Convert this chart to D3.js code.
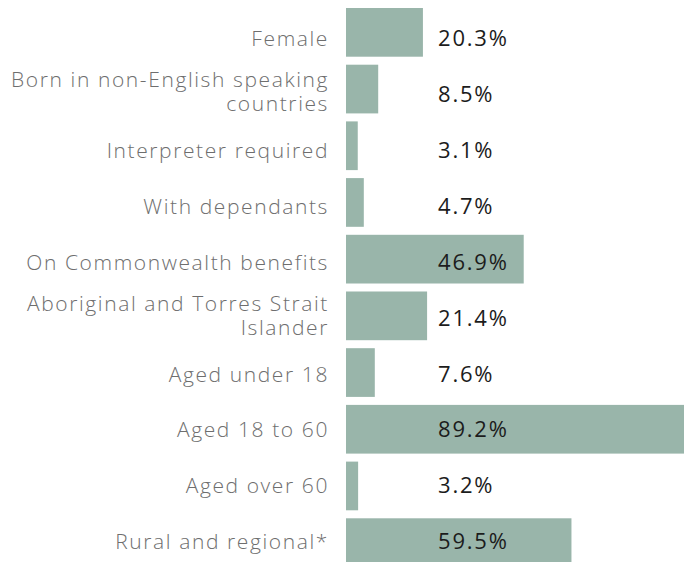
<!DOCTYPE html>
<html>
<head>
<meta charset="utf-8">
<script src="https://cdn.jsdelivr.net/npm/d3@7"></script>
<style>
  body { margin: 0; background: #fff; }
  text { font-family: "Open Sans", "Noto Sans", sans-serif; }
</style>
</head>
<body>
<svg id="chart"></svg>
<script>
// chart size
var width = 692,
    height = 562;

// categories (multi-line labels split with |) and values in percent
var categories = [
  "Female",
  "Born in non-English speaking|countries",
  "Interpreter required",
  "With dependants",
  "On Commonwealth benefits",
  "Aboriginal and Torres Strait|Islander",
  "Aged under 18",
  "Aged 18 to 60",
  "Aged over 60",
  "Rural and regional*"
];
var values = [20.3, 8.5, 3.1, 4.7, 46.9, 21.4, 7.6, 89.2, 3.2, 59.5];

var svg = d3.select("#chart")
    .attr("width", width)
    .attr("height", height);

// x scale: 0 at the bar start, 89.2 reaches the right edge
var x = d3.scaleLinear()
    .domain([0, 89.2])
    .range([346, 684]);

// bars
var y = d3.scaleBand()
    .domain(d3.range(categories.length))
    .range([8, 567])
    .paddingInner(0.141)
    .paddingOuter(0);

// text baselines sit on a slightly tighter grid than the bars
var yText = d3.scalePoint()
    .domain(d3.range(categories.length))
    .range([46, 549.3]);

var rows = svg.selectAll("g.row")
    .data(values)
    .enter()
    .append("g")
    .attr("class", "row");

rows.append("rect")
    .attr("x", x(0))
    .attr("y", function(d, i) { return y(i); })
    .attr("width", function(d) { return x(d) - x(0); })
    .attr("height", y.bandwidth())
    .attr("fill", "#99b5aa");

// value labels, always at the same x
rows.append("text")
    .attr("x", 438)
    .attr("y", function(d, i) { return yText(i); })
    .attr("font-size", 22)
    .attr("letter-spacing", 1.8)
    .attr("fill", "#1c1c1c")
    .text(function(d) { return d.toFixed(1) + "%"; });

// category labels, right aligned, may wrap on two lines
rows.append("text")
    .attr("text-anchor", "end")
    .attr("font-size", 21)
    .attr("font-weight", 300)
    .attr("letter-spacing", 1.6)
    .attr("fill", "#6e6e6e")
    .each(function(d, i) {
      var lines = categories[i].split("|");
      var t = d3.select(this);
      lines.forEach(function(line, k) {
        var dy = lines.length > 1 ? (k === 0 ? -15 : 9) : 0;
        t.append("tspan")
          .attr("x", 329)
          .attr("y", yText(i) + dy)
          .text(line);
      });
    });
</script>
</body>
</html>
